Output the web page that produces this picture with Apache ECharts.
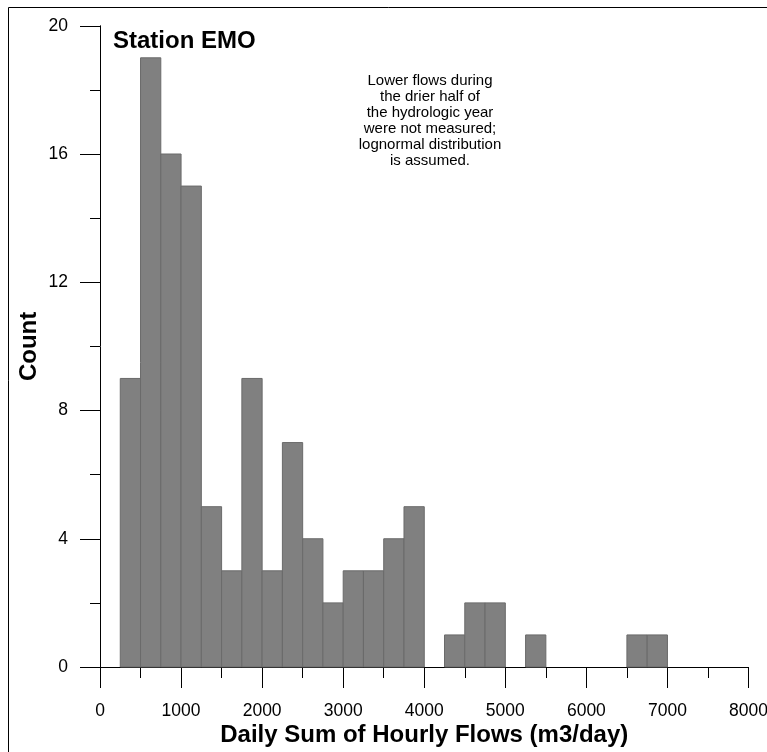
<!DOCTYPE html>
<html>
<head>
<meta charset="utf-8">
<script src="https://cdn.jsdelivr.net/npm/echarts@6/dist/echarts.min.js"></script>
<style>html,body{margin:0;padding:0;background:#fff;}#c{width:767px;height:752px;}</style>
</head>
<body>
<div id="c"></div>
<script>
var binStarts = [250,500,750,1000,1250,1500,1750,2000,2250,2500,2750,3000,3250,3500,3750,4000,4250,4500,4750,5000,5250,6500,6750];
var binWidth = 250;
var counts = [9,19,16,15,5,3,9,3,7,4,2,3,3,4,5,0,1,2,2,0,1,1,1];
var xTitle = 'Daily Sum of Hourly Flows (m3/day)';
var yTitle = 'Count';
var stationLabel = 'Station EMO';
var noteLines = ['Lower flows during','the drier half of','the hydrologic year','were not measured;','lognormal distribution','is assumed.'];

var data = binStarts.map(function(s,i){ return [s, s+binWidth, counts[i]]; });
var chart = echarts.init(document.getElementById('c'), null, {renderer:'canvas'});
var font = 'Arial, "Liberation Sans", sans-serif';
chart.setOption({
  animation:false,
  backgroundColor:'#fff',
  grid:{left:100,right:18.5,top:25.75,bottom:85,containLabel:false,outerBoundsMode:'none'},
  xAxis:{type:'value',min:0,max:8000,interval:1000,
    axisLine:{show:true,onZero:false,lineStyle:{color:'#000',width:1}},
    axisTick:{show:true,inside:false,length:21,lineStyle:{color:'#000'}},
    minorTick:{show:true,splitNumber:2,length:11,lineStyle:{color:'#000'}},
    splitLine:{show:false},
    axisLabel:{color:'#000',fontFamily:font,fontSize:17.5,margin:35,formatter:function(v){return String(v);}},
    name:xTitle,nameLocation:'middle',nameGap:56,nameMoveOverlap:false,
    nameTextStyle:{color:'#000',fontFamily:font,fontSize:24,fontWeight:'bold'}},
  yAxis:{type:'value',min:0,max:20,interval:4,
    axisLine:{show:true,lineStyle:{color:'#000',width:1}},
    axisTick:{show:true,inside:false,length:20,lineStyle:{color:'#000'}},
    minorTick:{show:true,splitNumber:2,length:10,lineStyle:{color:'#000'}},
    splitLine:{show:false},
    axisLabel:{color:'#000',fontFamily:font,fontSize:17.5,margin:32},
    name:yTitle,nameLocation:'middle',nameGap:59,nameRotate:90,nameMoveOverlap:false,
    nameTextStyle:{color:'#000',fontFamily:font,fontSize:24,fontWeight:'bold'}},
  graphic:[
    {type:'rect',shape:{x:8.5,y:7.5,width:800,height:800},style:{fill:'none',stroke:'#000',lineWidth:1},silent:true},
    {type:'text',x:113,y:29,style:{text:stationLabel,font:'bold 24px '+font,fill:'#000'}},
    {type:'text',x:430,y:73,style:{text:noteLines.join('\n'),font:'15px '+font,fill:'#000',align:'center',lineHeight:16}}
  ],
  series:[{
    type:'custom',
    data:data,
    encode:{x:[0,1],y:2},
    renderItem:function(params,api){
      var p0 = api.coord([api.value(0), api.value(2)]);
      var p1 = api.coord([api.value(1), 0]);
      if (api.value(2) <= 0) return null;
      return {type:'rect',shape:{x:p0[0],y:p0[1],width:p1[0]-p0[0],height:p1[1]-p0[1]},
        style:{fill:'#808080',stroke:'#6a6a6a',lineWidth:1}};
    }
  }]
});
</script>
</body>
</html>
